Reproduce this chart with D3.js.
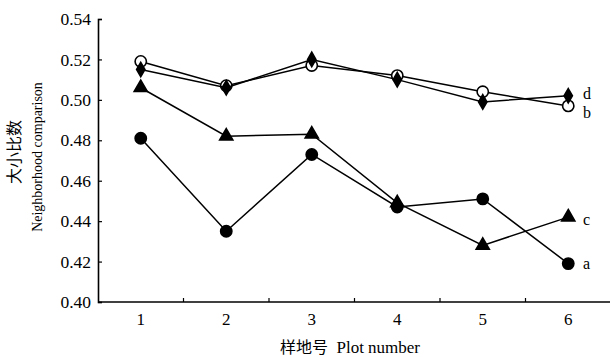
<html>
<head>
<script src="https://cdn.jsdelivr.net/npm/d3@7"></script>
<style>
  * { margin: 0; padding: 0; }
  body { background: #fff; }
  svg text { font-family: "Liberation Serif", "Times New Roman", serif; fill: #000; }
  .cjk { font-family: "Noto Sans CJK SC", sans-serif; }
</style>
</head>
<body>
<div id="chart"></div>
<script>
  var plots = ['1', '2', '3', '4', '5', '6'];
  var yTicks = [0.40, 0.42, 0.44, 0.46, 0.48, 0.50, 0.52, 0.54];
  var seriesA = [0.481, 0.435, 0.473, 0.447, 0.451, 0.419];
  var seriesB = [0.519, 0.507, 0.517, 0.512, 0.504, 0.497];
  var seriesC = [0.506, 0.482, 0.483, 0.449, 0.428, 0.442];
  var seriesD = [0.515, 0.506, 0.520, 0.510, 0.499, 0.502];

  var width = 610, height = 357;
  var svg = d3.select('#chart').append('svg')
      .attr('width', width)
      .attr('height', height);

  var x = d3.scaleBand().domain(plots).range([98, 611]);
  var y = d3.scaleLinear().domain([0.40, 0.54]).range([302, 19]);

  // y axis
  var yAxis = d3.axisLeft(y).tickValues(yTicks).tickFormat(d3.format('.2f'))
      .tickSize(-4).tickPadding(7);
  var gy = svg.append('g').attr('transform', 'translate(98,0)').call(yAxis);
  gy.select('.domain').attr('stroke', '#000').attr('stroke-width', 1.6);
  gy.selectAll('.tick line').attr('stroke', '#000').attr('stroke-width', 1.2);
  gy.selectAll('text').style('font-size', '17.5px');

  // x axis: ticks between plots
  var gx = svg.append('g').attr('transform', 'translate(0,302)');
  gx.append('line').attr('x1', 98).attr('x2', 610).attr('y1', 0).attr('y2', 0)
      .attr('stroke', '#000').attr('stroke-width', 1.6);
  gx.selectAll('.xt').data(plots.slice(1)).enter().append('line')
      .attr('x1', function(d) { return x(d); })
      .attr('x2', function(d) { return x(d); })
      .attr('y1', 0).attr('y2', -4)
      .attr('stroke', '#000').attr('stroke-width', 1.2);
  gx.selectAll('.xl').data(plots).enter().append('text')
      .attr('x', function(d) { return x(d) + x.bandwidth() / 2; })
      .attr('y', 23)
      .attr('text-anchor', 'middle')
      .style('font-size', '17px')
      .text(function(d) { return d; });

  // axis titles
  var xt = svg.append('text').attr('x', 350).attr('y', 353).attr('text-anchor', 'middle')
      .style('font-size', '17px');
  xt.append('tspan').attr('class', 'cjk').style('font-size', '16px').text('样地号');
  xt.append('tspan').text('\u00a0 Plot number');

  svg.append('text').attr('class', 'cjk')
      .attr('transform', 'translate(20,152) rotate(-90)')
      .attr('text-anchor', 'middle').style('font-size', '16px')
      .text('大小比数');
  svg.append('text')
      .attr('transform', 'translate(42,157) rotate(-90)')
      .attr('text-anchor', 'middle').style('font-size', '14px')
      .text('Neighborhood comparison');

  var cx = function(i) { return x(plots[i]) + x.bandwidth() / 2; };
  var line = d3.line().x(function(d, i) { return cx(i); }).y(function(d) { return y(d); });

  var series = [
    { vals: seriesB, sym: d3.symbolCircle, size: 100, fill: '#fff', label: 'b', lx: 583, ly: 118 },
    { vals: seriesD, sym: d3.symbolDiamond, size: 60, fill: '#000', label: 'd', lx: 583, ly: 99 },
    { vals: seriesC, sym: d3.symbolTriangle, size: 75, fill: '#000', label: 'c', lx: 583, ly: 225 },
    { vals: seriesA, sym: d3.symbolCircle, size: 100, fill: '#000', label: 'a', lx: 583, ly: 269 }
  ];

  series.forEach(function(s) {
    svg.append('path').datum(s.vals)
        .attr('d', line)
        .attr('fill', 'none')
        .attr('stroke', '#000')
        .attr('stroke-width', 1.5);
    svg.selectAll(null).data(s.vals).enter().append('path')
        .attr('d', d3.symbol().type(s.sym).size(s.size))
        .attr('transform', function(d, i) { return 'translate(' + cx(i) + ',' + y(d) + ')'; })
        .attr('fill', s.fill)
        .attr('stroke', '#000')
        .attr('stroke-width', 1.6);
    svg.append('text')
        .attr('x', s.lx)
        .attr('y', s.ly)
        .style('font-size', '16px')
        .text(s.label);
  });
</script>
</body>
</html>
